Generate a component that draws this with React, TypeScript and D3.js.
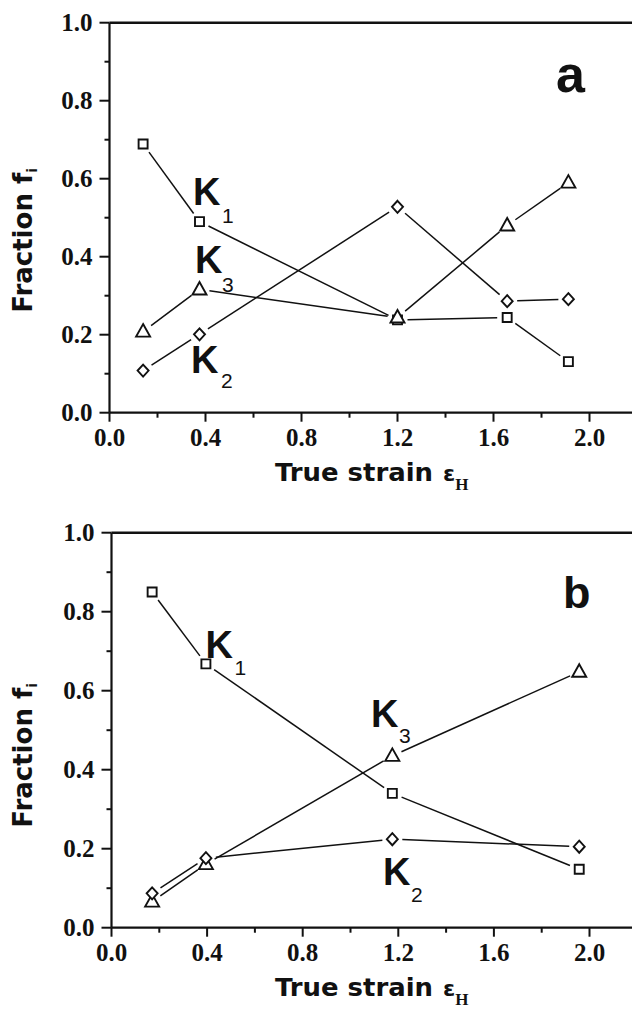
import React from "react";
import * as d3 from "d3";

// ---------- data ----------
const strainA = [0.14, 0.375, 1.2, 1.657, 1.912];
const k1A = [0.689, 0.49, 0.238, 0.244, 0.131];
const k2A = [0.108, 0.201, 0.528, 0.286, 0.291];
const k3A = [0.208, 0.316, 0.244, 0.48, 0.59];

const strainB = [0.17, 0.395, 1.175, 1.957];
const k1B = [0.85, 0.668, 0.34, 0.148];
const k2B = [0.087, 0.176, 0.224, 0.205];
const k3B = [0.066, 0.161, 0.435, 0.648];

const xMajorTicks = [0, 0.4, 0.8, 1.2, 1.6, 2.0];
const xMinorTicks = [0.2, 0.6, 1.0, 1.4, 1.8, 2.2];
const yMajorTicks = [0, 0.2, 0.4, 0.6, 0.8, 1.0];
const yMinorTicks = [0.1, 0.3, 0.5, 0.7, 0.9];

const xTitle = "True strain";
const xTitleSym = "ε";
const xTitleSub = "H";
const yTitle = "Fraction f";
const yTitleSub = "i";

const W = 632;
const H = 1016;

const fontTitle = "'DejaVu Sans', Verdana, sans-serif";
const fontK = "'Liberation Sans', Arial, sans-serif";
const fontTick = "'Liberation Serif', 'Times New Roman', serif";

type Marker = "square" | "triangle" | "diamond";

function markerPath(m: Marker): string {
  if (m === "square") return "M-4.5,-4.5H4.5V4.5H-4.5Z";
  if (m === "triangle") return "M0,-7.5L7,5L-7,5Z";
  return "M0,-6L5.5,0L0,6L-5.5,0Z";
}

function Series({
  xs,
  ys,
  x,
  y,
  marker,
}: {
  xs: number[];
  ys: number[];
  x: d3.ScaleLinear<number, number>;
  y: d3.ScaleLinear<number, number>;
  marker: Marker;
}) {
  const pts = xs.map((v, i) => [x(v), y(ys[i])] as [number, number]);
  const gap = 10;
  const segs: string[] = [];
  for (let i = 0; i < pts.length - 1; i++) {
    const [x1, y1] = pts[i];
    const [x2, y2] = pts[i + 1];
    const len = Math.hypot(x2 - x1, y2 - y1);
    if (len <= gap * 2) continue;
    const ux = (x2 - x1) / len;
    const uy = (y2 - y1) / len;
    segs.push(
      d3.line()([
        [x1 + ux * gap, y1 + uy * gap],
        [x2 - ux * gap, y2 - uy * gap],
      ]) as string
    );
  }
  return (
    <g>
      {segs.map((d, i) => (
        <path key={i} d={d} fill="none" stroke="#111" strokeWidth={1.5} />
      ))}
      {pts.map(([px, py], i) => (
        <path
          key={"m" + i}
          d={markerPath(marker)}
          transform={`translate(${px},${py})`}
          fill="white"
          stroke="#111"
          strokeWidth={1.9}
        />
      ))}
    </g>
  );
}

function KLabel({ x, y, sub, dx, dy }: { x: number; y: number; sub: string; dx: number; dy: number }) {
  return (
    <g>
      <text x={x} y={y} fontFamily={fontK} fontWeight="bold" fontSize={38} fill="#111">
        K
      </text>
      <text x={x + dx} y={y + dy} fontFamily={fontK} fontSize={21} fill="#111">
        {sub}
      </text>
    </g>
  );
}

type PanelCfg = {
  x0: number;
  ppu: number;
  yZero: number;
  yOne: number;
  strain: number[];
  k1: number[];
  k2: number[];
  k3: number[];
  letter: string;
  letterX: number;
  letterY: number;
  letterSize: number;
  labels: { x: number; y: number; sub: string; dx: number; dy: number }[];
};

const panels: PanelCfg[] = [
  {
    x0: 109.5,
    ppu: 240,
    yZero: 412.7,
    yOne: 22.7,
    strain: strainA,
    k1: k1A,
    k2: k2A,
    k3: k3A,
    letter: "a",
    letterX: 556,
    letterY: 91.5,
    letterSize: 52,
    labels: [
      { x: 193, y: 205, sub: "1", dx: 29, dy: 18 },
      { x: 195, y: 273, sub: "3", dx: 27, dy: 19 },
      { x: 191, y: 373, sub: "2", dx: 30, dy: 15 },
    ],
  },
  {
    x0: 111.5,
    ppu: 239,
    yZero: 927.7,
    yOne: 532.7,
    strain: strainB,
    k1: k1B,
    k2: k2B,
    k3: k3B,
    letter: "b",
    letterX: 563,
    letterY: 608,
    letterSize: 45,
    labels: [
      { x: 205.5, y: 658, sub: "1", dx: 29, dy: 17 },
      { x: 371, y: 727, sub: "3", dx: 28, dy: 16 },
      { x: 383, y: 885, sub: "2", dx: 28, dy: 17 },
    ],
  },
];

function Panel({ p }: { p: PanelCfg }) {
  const x = d3.scaleLinear().domain([0, 2.2]).range([p.x0, p.x0 + 2.2 * p.ppu]);
  const y = d3.scaleLinear().domain([0, 1]).range([p.yZero, p.yOne]);
  const axisX = x(0);
  const axisY = y(0);
  return (
    <g>
      {/* axes */}
      <line x1={axisX} x2={W} y1={axisY} y2={axisY} stroke="#111" strokeWidth={2.2} />
      <line x1={axisX} x2={W} y1={y(1)} y2={y(1)} stroke="#111" strokeWidth={2.4} />
      <line x1={axisX} x2={axisX} y1={y(1)} y2={axisY} stroke="#111" strokeWidth={2.2} />
      {xMajorTicks.map((t) => (
        <g key={"xM" + t}>
          <line x1={x(t)} x2={x(t)} y1={axisY} y2={axisY + 9} stroke="#111" strokeWidth={2} />
          <text
            x={x(t)}
            y={axisY + 33}
            textAnchor="middle"
            fontFamily={fontTick}
            fontWeight="bold"
            fontSize={25}
            fill="#111"
          >
            {d3.format(".1f")(t)}
          </text>
        </g>
      ))}
      {xMinorTicks.map((t) => (
        <line key={"xm" + t} x1={x(t)} x2={x(t)} y1={axisY} y2={axisY + 5} stroke="#111" strokeWidth={2} />
      ))}
      {yMajorTicks.map((t) => (
        <g key={"yM" + t}>
          <line x1={axisX - 10} x2={axisX} y1={y(t)} y2={y(t)} stroke="#111" strokeWidth={2} />
          <text
            x={axisX - 17}
            y={y(t) + 8}
            textAnchor="end"
            fontFamily={fontTick}
            fontWeight="bold"
            fontSize={25}
            fill="#111"
          >
            {d3.format(".1f")(t)}
          </text>
        </g>
      ))}
      {yMinorTicks.map((t) => (
        <line key={"ym" + t} x1={axisX - 5} x2={axisX} y1={y(t)} y2={y(t)} stroke="#111" strokeWidth={2} />
      ))}

      {/* axis titles */}
      <text
        x={275}
        y={axisY + 68}
        fontFamily={fontTitle}
        fontWeight="bold"
        fontSize={25}
        fill="#111"
        textLength={158}
        lengthAdjust="spacingAndGlyphs"
      >
        {xTitle}
      </text>
      <text x={443} y={axisY + 68} fontFamily={fontTitle} fontWeight="bold" fontSize={22} fill="#111">
        {xTitleSym}
        <tspan fontFamily={fontTick} fontWeight="bold" fontSize={17} dy={9}>
          {xTitleSub}
        </tspan>
      </text>
      <text
        transform={`translate(32,${axisY - 100}) rotate(-90)`}
        fontFamily={fontTitle}
        fontWeight="bold"
        fontSize={26}
        fill="#111"
      >
        {yTitle}
        <tspan fontSize={14} dy={5}>
          {yTitleSub}
        </tspan>
      </text>

      {/* series */}
      <Series xs={p.strain} ys={p.k1} x={x} y={y} marker="square" />
      <Series xs={p.strain} ys={p.k3} x={x} y={y} marker="triangle" />
      <Series xs={p.strain} ys={p.k2} x={x} y={y} marker="diamond" />

      {/* labels */}
      {p.labels.map((l, i) => (
        <KLabel key={i} {...l} />
      ))}
      <text x={p.letterX} y={p.letterY} fontFamily={fontK} fontWeight="bold" fontSize={p.letterSize} fill="#111">
        {p.letter}
      </text>
    </g>
  );
}

export default function App() {
  return (
    <svg
      width={W}
      height={H}
      viewBox={`0 0 ${W} ${H}`}
      style={{ position: "absolute", left: 0, top: 0, background: "white" }}
    >
      <rect width={W} height={H} fill="white" />
      {panels.map((p, i) => (
        <Panel key={i} p={p} />
      ))}
    </svg>
  );
}
